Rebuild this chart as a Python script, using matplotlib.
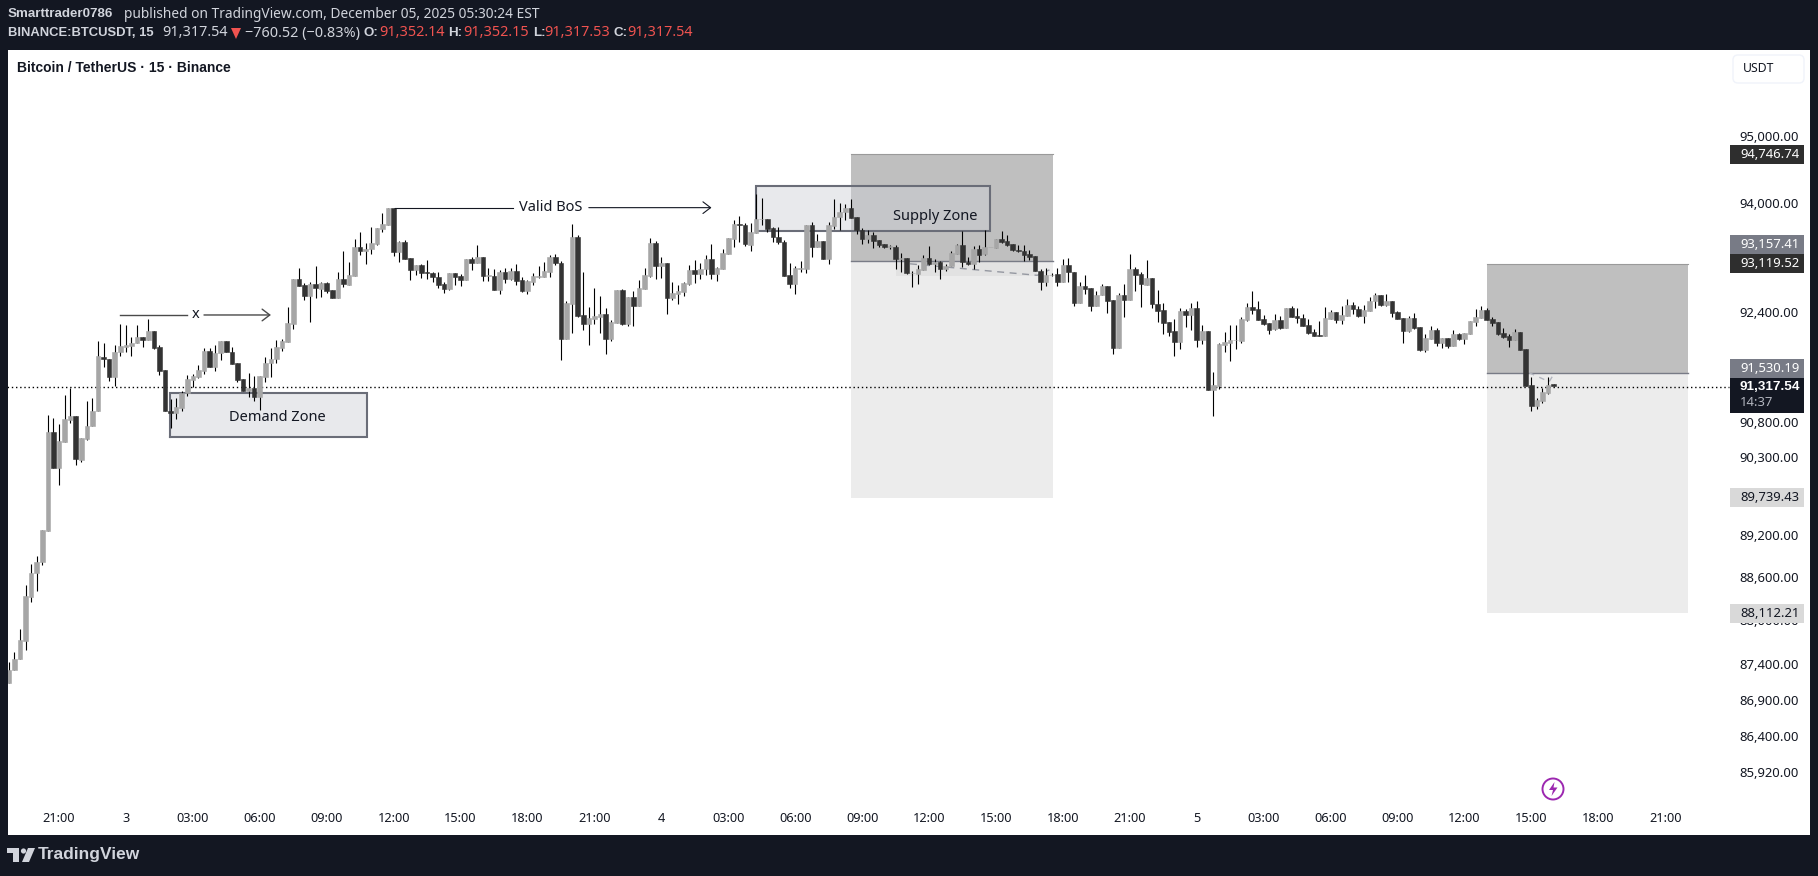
import matplotlib
matplotlib.use("Agg")
import numpy as np
import matplotlib.pyplot as plt
from matplotlib.patches import Rectangle, FancyBboxPatch, Circle, Polygon
from matplotlib.transforms import Affine2D

plt.rcParams['font.family'] = ['Noto Sans', 'DejaVu Sans']

# ------------------ candle data (15 min) -------------------
opens = [
    87137,87312,87460,87718,88330,88657,88807,89257,90660,90150,
    90521,90832,90890,90259,90560,90737,90952,91736,91712,91442,
    91804,91891,91896,91939,92026,91992,92118,91881,91553,90957,
    90928,91005,91215,91408,91456,91543,91828,91601,91794,91973,
    91809,91654,91423,91253,91287,91167,91456,91650,91707,91876,
    91963,92224,92879,92786,92630,92805,92737,92820,92717,92605,
    92879,92791,92923,93344,93295,93320,93398,93621,93680,93927,
    93280,93418,93182,93016,93079,92981,92962,92903,92801,92737,
    92962,92918,92869,93172,93118,93196,92928,92918,92718,92976,
    92884,92991,92864,92708,92840,92908,92913,92986,93196,93108,
    92007,92512,93497,92351,92219,92292,92317,92361,92007,92239,
    92718,92219,92615,92488,92737,92928,93408,93069,93108,92605,
    92659,92693,92805,93011,92952,93020,93167,92952,93030,93245,
    93467,93690,93675,93384,93561,93759,93759,93626,93502,93418,
    92932,92810,93030,93025,93675,93344,93438,93177,93665,93788,
    93862,93926,93793,93596,93463,93527,93453,93394,93349,93349,
    93177,93182,92962,92957,93015,93182,93099,93128,93030,93069,
    93250,93379,93133,93104,93320,93241,93349,93339,93468,93438,
    93389,93305,93290,93241,93211,92991,92840,92932,92952,92840,
    93084,92976,92532,92776,92747,92488,92640,92776,92571,91876,
    92644,92566,93025,92952,92791,92898,92507,92424,92249,92118,
    91963,92410,92351,92449,91992,92118,91268,91321,91915,91949,
    91983,91978,92278,92468,92434,92293,92229,92142,92278,92166,
    92454,92336,92302,92205,92099,92055,92050,92293,92390,92278,
    92341,92498,92434,92336,92415,92547,92644,92498,92556,92395,
    92307,92123,92307,92171,91843,91998,92132,91944,92012,91905,
    92070,92002,92079,92253,92312,92424,92293,92244,92084,92045,
    91988,92104,91857,91331,91024,91110,91220,91352.14]
highs = [
    87427,87566,87881,88493,88788,88892,89266,90904,90856,90775,
    91191,91297,90890,90569,91110,91143,91973,91939,91712,91915,
    92215,92205,92036,92205,92036,92288,92118,91915,91553,91129,
    91143,91249,91480,91495,91626,91867,91867,91915,91973,91973,
    91891,91654,91423,91505,91466,91466,91736,91867,91987,92002,
    92464,92879,93035,92815,92830,93069,92840,92840,92717,92976,
    93285,93133,93463,93566,93403,93650,93630,93848,93927,93927,
    93443,93453,93182,93079,93099,93157,92986,92986,92840,92962,
    92962,92947,93172,93196,93379,93196,93035,93020,93011,93035,
    93035,93094,92913,92864,92962,93069,93133,93231,93245,93143,
    92556,93690,93527,92986,92473,92752,92630,92449,92278,92718,
    92737,92620,92703,92864,93035,93482,93438,93201,93108,92840,
    92791,92840,93084,93157,93108,93231,93389,93060,93315,93477,
    93749,93808,93700,93709,94129,94070,93759,93650,93650,93453,
    93108,93069,93143,93675,93714,93542,93438,93714,94060,93996,
    93986,94060,93793,93625,93601,93576,93453,93394,93379,93379,
    93255,93182,92996,93084,93231,93364,93167,93148,93099,93290,
    93394,93586,93196,93364,93379,93601,93354,93468,93586,93527,
    93389,93379,93379,93305,93211,93020,93035,92962,93035,93172,
    93182,92976,92840,92937,92747,92703,92801,92776,92571,92669,
    92801,93246,93050,92986,93157,92898,92718,92522,92249,92288,
    92449,92439,92522,92547,92205,92118,91519,91949,92099,92205,
    92205,92317,92522,92703,92556,92351,92239,92366,92336,92459,
    92488,92449,92366,92293,92142,92263,92463,92424,92390,92483,
    92586,92537,92483,92498,92610,92678,92644,92659,92556,92410,
    92307,92332,92376,92171,92074,92190,92157,92012,92012,92132,
    92089,92084,92263,92434,92483,92454,92317,92244,92157,92074,
    92142,92104,91857,91456,91148,91287,91456,91352.15]
lows = [
    87137,87312,87460,87589,88261,88414,88774,89257,90150,89904,
    90521,90785,90188,90235,90536,90737,90952,91601,91398,91321,
    91746,91804,91760,91939,91891,91992,91852,91480,90952,90717,
    90847,90962,91182,91302,91432,91495,91601,91538,91698,91804,
    91640,91384,91253,91158,91110,90976,91384,91456,91650,91828,
    91963,92152,92781,92571,92253,92595,92620,92669,92605,92605,
    92757,92791,92923,93231,93099,93245,93379,93576,93680,93221,
    93133,93177,92864,92937,92888,92874,92840,92742,92678,92718,
    92791,92776,92869,93011,93118,92854,92854,92718,92659,92815,
    92864,92791,92693,92659,92791,92888,92913,92913,93084,91688,
    91997,92094,92327,92132,91915,92219,92084,91775,91978,92229,
    92210,92195,92195,92488,92737,92913,92884,92888,92371,92571,
    92512,92630,92791,92825,92874,92937,92874,92854,93030,93245,
    93354,93418,93364,93295,93561,93675,93576,93418,93394,92928,
    92742,92659,92976,92971,93206,93344,93167,93099,93616,93601,
    93749,93773,93542,93394,93413,93339,93354,93329,93324,93020,
    92976,92952,92766,92805,93010,93084,92986,92884,92991,93069,
    93250,93050,93084,93030,93133,93231,93344,93339,93413,93369,
    93290,93280,93148,93157,92991,92722,92781,92920,92776,92840,
    92840,92483,92522,92659,92415,92488,92640,92376,91785,91876,
    92327,92566,92708,92473,92791,92449,92253,92074,92045,91746,
    91857,92171,92132,91891,91925,91268,90880,91282,91818,91683,
    91857,91949,92263,92366,92283,92205,92074,92132,92142,92166,
    92327,92229,92190,92074,92045,92045,92050,92293,92239,92219,
    92341,92366,92327,92239,92415,92454,92488,92488,92317,92288,
    91949,92104,92147,91828,91804,91998,91901,91876,91876,91905,
    91988,91930,92074,92190,92312,92283,92190,92060,92012,91891,
    91988,91847,91321,90952,90990,91081,91210,91317.53]
closes = [
    87312,87464,87728,88340,88657,88807,89266,90660,90150,90531,
    90847,90890,90268,90569,90746,90966,91746,91707,91442,91809,
    91901,91910,91944,92031,91992,92118,91876,91543,90952,90928,
    91014,91215,91418,91466,91548,91828,91601,91794,91973,91804,
    91640,91408,91253,91287,91167,91466,91650,91712,91881,91973,
    92229,92879,92781,92630,92805,92742,92820,92708,92605,92879,
    92796,92932,93344,93295,93324,93403,93630,93690,93927,93280,
    93418,93177,93016,93079,92972,92971,92903,92791,92732,92962,
    92913,92869,93172,93118,93196,92928,92937,92722,92976,92879,
    92991,92854,92708,92845,92923,92923,92996,93196,93108,92007,
    92522,93497,92341,92219,92302,92341,92366,92007,92244,92718,
    92219,92620,92488,92747,92937,93408,93074,93108,92605,92669,
    92703,92815,93011,92952,93025,93167,92957,93035,93255,93477,
    93690,93680,93389,93566,93764,93769,93616,93502,93418,92928,
    92810,93035,93040,93675,93354,93438,93177,93675,93793,93867,
    93926,93783,93601,93463,93527,93443,93384,93349,93359,93177,
    93187,92962,92967,93020,93182,93099,93133,93030,93074,93260,
    93379,93123,93099,93320,93236,93349,93354,93468,93428,93384,
    93300,93295,93236,93201,92991,92840,92932,92942,92840,93084,
    92976,92532,92776,92737,92488,92644,92776,92561,91876,92644,
    92566,93025,92942,92796,92898,92507,92415,92239,92108,91963,
    92410,92356,92449,91992,92118,91268,91331,91930,91959,91988,
    91988,92293,92468,92429,92283,92224,92132,92278,92166,92454,
    92327,92302,92195,92094,92050,92050,92302,92395,92278,92351,
    92498,92434,92341,92420,92556,92644,92503,92556,92385,92297,
    92123,92307,92166,91843,92012,92132,91949,92012,91905,92074,
    91998,92084,92263,92317,92424,92283,92239,92074,92036,91988,
    92104,91847,91321,91024,91120,91234,91335,91317.54]

# axis labels
time_labels = ["21:00","3","03:00","06:00","09:00","12:00","15:00","18:00",
               "21:00","4","03:00","06:00","09:00","12:00","15:00","18:00",
               "21:00","5","03:00","06:00","09:00","12:00","15:00","18:00","21:00"]
price_ticks = [95000,94000,92400,90800,90300,89800,89200,88600,
               88000,87400,86900,86400,85920]

# long/short position boxes: top, entry, bottom
box1_prices = [94746.74, 93157.41, 89739.43]
box2_prices = [93119.52, 91530.19, 88112.21]
last_price = 91317.54

W, H = 1818, 876
BG = "#131722"
UP = "#a6a6a6"
DOWN = "#333333"
BOLD = "Liberation Sans"

fig = plt.figure(figsize=(W/100, H/100), dpi=100, facecolor=BG)
ax = fig.add_axes([8/W, (H-835)/H, (1810-8)/W, (835-50)/H])
ax.set_yscale("log")
ax.set_facecolor("white")
for s in ax.spines.values():
    s.set_visible(False)

# scales first, the nudged transform below needs them
ax.set_xlim(-0.143, 322.97)
ax.set_ylim(85063, 96300)

# drawn price lines sit a touch below the centre of their axis labels
nudge = ax.transData + Affine2D().translate(0, -1.3)

# ---------------- position boxes -----------------
def pos_box(x0, x1, prices):
    top, mid, bot = prices
    ax.fill_between([x0, x1], mid, top, color="#bfbfbf", lw=0, zorder=1, transform=nudge)
    ax.fill_between([x0, x1], bot, mid, color="#ececec", lw=0, zorder=1, transform=nudge)
    ax.plot([x0, x1], [mid, mid], color="#787b86", lw=1, zorder=1.5, transform=nudge)
    ax.plot([x0, x1], [top, top], color="#9a9a9a", lw=0.8, zorder=1.5, transform=nudge)

pos_box(151, 187.2, box1_prices)
pos_box(265, 301.1, box2_prices)

# faint fill and dashed path inside the first box
ax.fill_between([159, 184.4], 92940, 93157, color="#e2e2e2", lw=0, zorder=1.2, transform=nudge)
ax.plot([161.6, 184.4, 186.6], [93119, 92950, 93030], color="#9598a1", lw=1,
        ls=(0, (5, 4)), zorder=2.8, transform=nudge)
ax.plot([272.6, 276.2, 276.8], [91530, 91400, 91480], color="#b2b5be", lw=1,
        ls=(0, (4, 4)), zorder=2.8, transform=nudge)

# ---------------- zones ------------------
def zone(x0, x1, p0, p1, label, tx, ty):
    ax.fill_between([x0, x1], p0, p1, color="#cdcfd6", alpha=0.46, lw=0, zorder=2)
    ax.plot([x0, x1, x1, x0, x0], [p0, p0, p1, p1, p0], color="#6a6d78", lw=1.5,
            solid_joinstyle="miter", zorder=2.2)
    ax.text(tx, ty, label, fontsize=10.5, color="#131722", ha="center", va="center", zorder=5)

zone(28.9, 64.2, 90587, 91215, "Demand Zone", 48.1, 90870)
zone(134, 175.9, 93585, 94252, "Supply Zone", 166.1, 93800)

# ---------------- candles -----------------
idx = np.arange(len(opens))
o = np.array(opens); h = np.array(highs); l = np.array(lows); c = np.array(closes)
cols = [UP if cc >= oo else DOWN for oo, cc in zip(o, c)]
ax.vlines(idx, l, h, colors="black", lw=0.8, zorder=3)
ax.bar(idx, np.maximum(c, o) - np.minimum(c, o), bottom=np.minimum(c, o), width=0.82,
       color=cols, edgecolor=cols, linewidth=0.4, zorder=3.2)

# last price dotted line
ax.hlines(last_price, -1, 308.4, colors="black", lw=1, linestyles=(0, (1, 2)), zorder=2.5,
          transform=nudge)

# ---------------- annotations ----------------
def arrow_note(x0, x1, x2, x3, price, label, color, lw):
    ax.plot([x0, x1], [price, price], color=color, lw=lw, zorder=4)
    ax.text((x1 + x2)/2, price, label, fontsize=10.5, color="#131722", ha="center",
            va="center", zorder=5)
    ax.annotate("", xy=(x3, price), xytext=(x2, price), zorder=4,
                arrowprops=dict(arrowstyle="->,head_length=0.55,head_width=0.42", color=color,
                                lw=lw, shrinkA=0, shrinkB=0))

arrow_note(20, 32, 35, 47, 92350, "x", "#4a4a4a", 1.0)
arrow_note(69.3, 90.4, 104, 126, 93930, "Valid BoS", "#131722", 0.8)

# ---------------- ticks ----------------
ax.yaxis.set_minor_locator(matplotlib.ticker.NullLocator())
ax.set_yticks(price_ticks)
ax.set_yticklabels([f"{v:,.2f}" for v in price_ticks])
ax.yaxis.tick_right()
ax.tick_params(axis="y", length=0, pad=-51, labelsize=9.4, labelcolor="#131722")
ax.set_xticks(np.arange(len(time_labels))*12 + 9)
ax.set_xticklabels(time_labels)
ax.tick_params(axis="x", length=0, pad=-16.3, labelsize=9.2, labelcolor="#131722")

# ------------------ page chrome, pixel coords -------------------
ov = fig.add_axes([0, 0, 1, 1], zorder=10)
ov.set_xlim(0, W); ov.set_ylim(H, 0)
ov.axis("off")

def tag(price, y0, y1, fc, tc):
    ov.add_patch(Rectangle((1730, y0), 74, y1-y0, fc=fc, lw=0))
    ov.text(1740, (y0+y1)/2, f"{price:,.2f}", fontsize=9.4, color=tc, ha="left", va="center")

tag(box1_prices[0], 145, 164, "#2e2e2e", "white")
tag(box1_prices[1], 235, 254, "#787b86", "white")
tag(box2_prices[0], 254, 273, "#2e2e2e", "white")
tag(box2_prices[1], 359, 378, "#787b86", "white")
tag(box1_prices[2], 488, 507, "#d9d9d9", "#131722")
tag(box2_prices[2], 604, 623, "#d9d9d9", "#131722")

ov.add_patch(Rectangle((1730, 378), 74, 35, fc=BG, lw=0))
ov.text(1740, 386.5, f"{last_price:,.2f}", fontsize=9.7, color="white", fontweight="bold",
        family=BOLD, va="center")
ov.text(1740, 402.5, "14:37", fontsize=9.4, color="#b2b5be", va="center")

# USDT button
ov.add_patch(FancyBboxPatch((1736, 58), 65, 22, boxstyle="round,pad=3,rounding_size=5",
                            fc="white", ec="#f0f3fa", lw=1))
ov.text(1759, 69, "USDT", fontsize=8.8, color="#131722", ha="center", va="center")

# chart title
ov.text(17, 68, "Bitcoin / TetherUS · 15 · Binance", fontsize=10, color="#131722",
        fontweight="bold", family=BOLD, va="center")

# header lines
HC = "#d1d4dc"
RED = "#f05350"
def head(x, y, s, col=HC, size=10.4):
    ov.text(x, y, s, fontsize=size, color=col, va="center")

def head_b(x, y, s, size=9.6):
    ov.text(x, y, s, fontsize=size, color=HC, va="center", fontweight="bold", family=BOLD)

head_b(8, 14, "Smarttrader0786")
head(124, 14, "published on TradingView.com, December 05, 2025 05:30:24 EST", size=9.9)
head_b(8, 33, "BINANCE:BTCUSDT, 15", size=9.4)
head(162, 33, "91,317.54")
ov.add_patch(Polygon([(231, 28), (241, 28), (236, 39)], fc=RED, lw=0))
head(245, 33, "−760.52 (−0.83%)")
head_b(364, 33, "O:"); head(379, 33, "91,352.14", RED)
head_b(448, 33, "H:"); head(463, 33, "91,352.15", RED)
head_b(533, 33, "L:"); head(544, 33, "91,317.53", RED)
head_b(614, 33, "C:"); head(627, 33, "91,317.54", RED)

# bolt icon
ov.add_patch(Circle((1553, 789), 10.5, fc="white", ec="#9c27b0", lw=1.4))
ov.add_patch(Polygon([(1554.5, 782), (1549, 790), (1553, 790), (1551.5, 796), (1557.5, 787.5),
                      (1553.5, 787.5)], fc="#9c27b0", lw=0))

# TradingView logo
ov.add_patch(Polygon([(7, 848), (19, 848), (19, 862), (13, 862), (13, 853), (7, 853)], fc=HC, lw=0))
ov.add_patch(Circle((23.5, 851), 2.6, fc=HC, lw=0))
ov.add_patch(Polygon([(28, 848), (35, 848), (29, 862), (22, 862)], fc=HC, lw=0))
ov.text(38, 855, "TradingView", fontsize=12.5, color=HC, fontweight="bold", family=BOLD, va="center")

fig.savefig("out.png", dpi=100, facecolor=BG)
